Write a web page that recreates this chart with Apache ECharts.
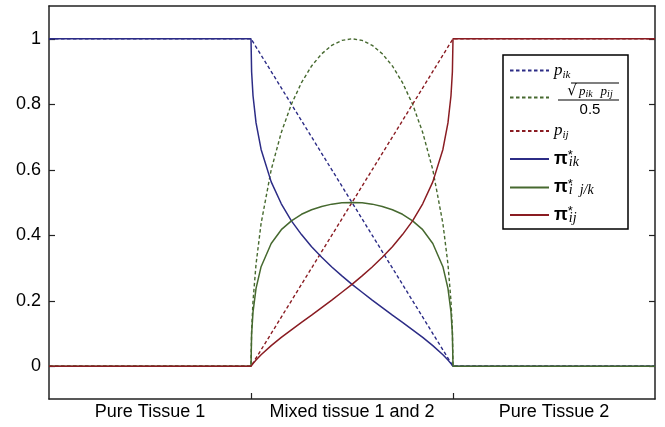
<!DOCTYPE html>
<html>
<head>
<meta charset="utf-8">
<script src="https://cdn.jsdelivr.net/npm/echarts@6/dist/echarts.min.js"></script>
<style>
  html, body { margin: 0; padding: 0; background: #fff; }
  #chart { width: 665px; height: 427px; }
</style>
</head>
<body>
<div id="chart"></div>
<script>
// categories along the x axis (one unit each)
const regionLabels = ['Pure Tissue 1', 'Mixed tissue 1 and 2', 'Pure Tissue 2'];
const yTicks = [0, 0.2, 0.4, 0.6, 0.8, 1];

// straight dashed lines
const xKnots = [0, 1, 2, 3];
const pIk = [1, 1, 0, 0];
const pIj = [0, 0, 1, 1];

// curved lines, sampled across the mixed region
const xMix = [0, 1, 1.003, 1.01, 1.025, 1.05, 1.1, 1.15, 1.2, 1.25, 1.3, 1.35, 1.4, 1.45, 1.5,
  1.55, 1.6, 1.65, 1.7, 1.75, 1.8, 1.85, 1.9, 1.95, 1.975, 1.99, 1.997, 2, 3];
const geoNorm = [0, 0, 0.109, 0.199, 0.312, 0.436, 0.6, 0.714, 0.8, 0.866, 0.917, 0.954, 0.98, 0.995, 1,
  0.995, 0.98, 0.954, 0.917, 0.866, 0.8, 0.714, 0.6, 0.436, 0.312, 0.199, 0.109, 0, 0];
const piIk = [1, 1, 0.899, 0.826, 0.743, 0.662, 0.563, 0.496, 0.444, 0.402, 0.365, 0.333, 0.303, 0.276, 0.25,
  0.226, 0.202, 0.179, 0.156, 0.134, 0.111, 0.088, 0.063, 0.035, 0.019, 0.008, 0.003, 0, 0];
const piIjk = [0, 0, 0.098, 0.166, 0.238, 0.304, 0.375, 0.417, 0.444, 0.464, 0.478, 0.488, 0.495, 0.499, 0.5,
  0.499, 0.495, 0.488, 0.478, 0.464, 0.444, 0.417, 0.375, 0.304, 0.238, 0.166, 0.098, 0, 0];
const piIj = [0, 0, 0.003, 0.008, 0.019, 0.035, 0.063, 0.088, 0.111, 0.134, 0.156, 0.179, 0.202, 0.226, 0.25,
  0.276, 0.303, 0.333, 0.365, 0.402, 0.444, 0.496, 0.563, 0.662, 0.743, 0.826, 0.899, 1, 1];

const BLUE = '#2c2c86';
const GREEN = '#46692f';
const RED = '#8a1c22';
const DASH = [3.5, 2.5];

const pairs = (xs, ys) => xs.map((x, i) => [x, ys[i]]);

function lineSeries(name, xs, ys, color, dashed) {
  return {
    name: name,
    type: 'line',
    data: pairs(xs, ys),
    symbol: 'none',
    silent: true,
    animation: false,
    lineStyle: { color: color, width: dashed ? 1.4 : 1.5, type: dashed ? DASH : 'solid' },
    itemStyle: { color: color },
    emphasis: { disabled: true }
  };
}

const serif = 'Liberation Serif';
const sans = 'Liberation Sans';
const rich = {
  p: { fontFamily: serif, fontStyle: 'italic', fontSize: 17, lineHeight: 20, color: '#000' },
  s: { fontFamily: serif, fontStyle: 'italic', fontSize: 11, lineHeight: 17, verticalAlign: 'bottom', color: '#000' },
  pi: { fontFamily: sans, fontWeight: 'bold', fontSize: 18, lineHeight: 20, color: '#000' },
  sup: { fontFamily: sans, fontSize: 13, lineHeight: 8, verticalAlign: 'top', width: 1, color: '#000' },
  ps: { fontFamily: serif, fontStyle: 'italic', fontSize: 14, lineHeight: 16, verticalAlign: 'bottom', color: '#000' },
  top: { fontSize: 1, lineHeight: 7, width: 65, align: 'center' },
  g2: { fontSize: 1, lineHeight: 1, width: 2, align: 'center' },
  g3: { fontSize: 1, lineHeight: 1, width: 3, align: 'center' },
  g4: { fontSize: 1, lineHeight: 1, width: 4, align: 'center' },
  g7: { fontSize: 1, lineHeight: 1, width: 7, align: 'center' },
  g8: { fontSize: 1, lineHeight: 1, width: 8, align: 'center' },
  g10: { fontSize: 1, lineHeight: 1, width: 10, align: 'center' },
  g17: { fontSize: 1, lineHeight: 1, width: 17, align: 'center' },
  ovl: { fontSize: 1, lineHeight: 1, width: 48, backgroundColor: '#000', align: 'center' },
  bar: { fontSize: 1, lineHeight: 1, width: 61, backgroundColor: '#000', align: 'center' },
  sq: { fontFamily: 'DejaVu Sans', fontSize: 15, lineHeight: 16, align: 'center', color: '#000' },
  np: { fontFamily: serif, fontStyle: 'italic', fontSize: 13, lineHeight: 16, align: 'center', color: '#000' },
  ns: { fontFamily: serif, fontStyle: 'italic', fontSize: 10, lineHeight: 12, verticalAlign: 'bottom', align: 'center', color: '#000' },
  den: { fontFamily: sans, fontSize: 15, lineHeight: 19, align: 'center', color: '#000' }
};

const fractionText = [
  '{top| }',
  '{g17| }{ovl| }',
  '{g10| }{sq|√}{g2| }{np|p}{ns|ik}{g8| }{np|p}{ns|ij}{g3| }',
  '{g4| }{bar| }',
  '{g7| }{den|0.5}'
].join('\n');

const legendRows = [
  { name: 'p_ik', center: 72, h: 20, text: '{p|p}{s|ik}' },
  { name: 'sqrt', center: 100.5, h: 44, text: fractionText },
  { name: 'p_ij', center: 132.5, h: 20, text: '{p|p}{s|ij}' },
  { name: 'pi_ik', center: 159, h: 20, text: '{pi|π}{sup|*}{ps|ik}' },
  { name: 'pi_ijk', center: 187.5, h: 20, text: '{pi|π}{sup|*}{ps|i  j/k}' },
  { name: 'pi_ij', center: 215, h: 20, text: '{pi|π}{sup|*}{ps|ij}' }
];

const legends = legendRows.map(row => ({
  data: [row.name],
  left: 509,
  top: row.center - row.h / 2,
  padding: 0,
  itemWidth: 39,
  itemHeight: 10,
  selectedMode: false,
  z: 6,
  itemStyle: { opacity: 0 },
  formatter: () => row.text,
  textStyle: { color: '#000', rich: rich }
}));

const frameLine = { show: true, onZero: false, lineStyle: { color: '#222', width: 1.5 } };
const tickStyle = { color: '#222', width: 1.2 };

const chart = echarts.init(document.getElementById('chart'), null, { renderer: 'canvas' });
chart.setOption({
  backgroundColor: '#fff',
  animation: false,
  grid: { left: 49, right: 10, top: 6, bottom: 28 },
  xAxis: [
    {
      type: 'value', min: 0, max: 3, position: 'bottom',
      axisLine: frameLine,
      axisTick: { show: true, inside: false, length: -6, customValues: [1, 2], lineStyle: tickStyle },
      axisLabel: {
        customValues: [0.5, 1.5, 2.5],
        formatter: v => regionLabels[Math.floor(v)],
        fontFamily: sans, fontSize: 18, color: '#000', margin: 4
      },
      splitLine: { show: false }
    },
    {
      type: 'value', min: 0, max: 3, position: 'top',
      axisLine: frameLine, axisTick: { show: false }, axisLabel: { show: false }, splitLine: { show: false }
    }
  ],
  yAxis: [
    {
      type: 'value', min: -0.1, max: 1.1, position: 'left',
      axisLine: frameLine,
      axisTick: { show: true, inside: true, length: 6, customValues: yTicks, lineStyle: tickStyle },
      axisLabel: { customValues: yTicks, fontFamily: sans, fontSize: 18, color: '#000', margin: 8 },
      splitLine: { show: false }
    },
    {
      type: 'value', min: -0.1, max: 1.1, position: 'right',
      axisLine: frameLine,
      axisTick: { show: true, inside: true, length: 6, customValues: yTicks, lineStyle: tickStyle },
      axisLabel: { show: false },
      splitLine: { show: false }
    }
  ],
  legend: legends,
  graphic: [{
    type: 'rect', z: 5, silent: true,
    shape: { x: 503, y: 55, width: 125, height: 174 },
    style: { fill: '#fff', stroke: '#000', lineWidth: 1.5 }
  }],
  series: [
    lineSeries('p_ik', xKnots, pIk, BLUE, true),
    lineSeries('sqrt', xMix, geoNorm, GREEN, true),
    lineSeries('p_ij', xKnots, pIj, RED, true),
    lineSeries('pi_ik', xMix, piIk, BLUE, false),
    lineSeries('pi_ijk', xMix, piIjk, GREEN, false),
    lineSeries('pi_ij', xMix, piIj, RED, false)
  ]
});
</script>
</body>
</html>
